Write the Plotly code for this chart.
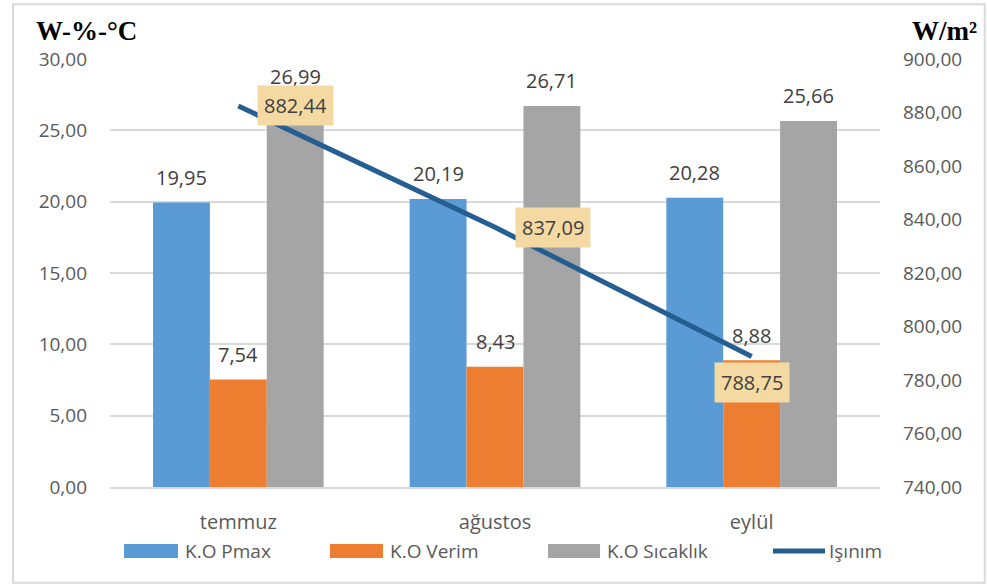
import plotly.graph_objects as go

# Monthly averages
months = ["temmuz", "ağustos", "eylül"]
pmax = [19.95, 20.19, 20.28]
verim = [7.54, 8.43, 8.88]
sicaklik = [26.99, 26.71, 25.66]
isinim = [882.44, 837.09, 788.75]

left_ticks = [0, 5, 10, 15, 20, 25, 30]
right_ticks = [740, 760, 780, 800, 820, 840, 860, 880, 900]

FONT = "Open Sans"
LABEL_C = "#404040"
TICK_C = "#595959"
LINE_C = "#255E91"

fig = go.Figure()

bar_series = [
    ("K.O Pmax", pmax, "#5B9BD5"),
    ("K.O Verim", verim, "#ED7D31"),
    ("K.O Sıcaklık", sicaklik, "#A5A5A5"),
]
for name, vals, col in bar_series:
    fig.add_trace(go.Bar(
        x=months, y=vals, name=name, marker_color=col,
        marker_line_width=0, yaxis="y", hoverinfo="skip", showlegend=False,
    ))

fig.add_trace(go.Scatter(
    x=months, y=isinim, name="Işınım", mode="lines",
    line=dict(color=LINE_C, width=5), yaxis="y2", hoverinfo="skip",
    showlegend=False,
))

annotations = []
shapes = []
# value labels above each bar (bar slot width = 1/3 of the group width)
group_w = 1 - 0.335
slot = group_w / 3
for k, (name, vals, col) in enumerate(bar_series):
    off = (k - 1) * slot
    for i, v in enumerate(vals):
        annotations.append(dict(
            x=i + off, y=v, xref="x", yref="y", text=f"{v:.2f}".replace(".", ","),
            showarrow=False, yshift=25, yanchor="middle",
            font=dict(family=FONT, size=20, color=LABEL_C),
        ))

# boxed labels for the irradiance line
line_shifts = [(57, 0), (58, 0), (0, -26)]
for i, v in enumerate(isinim):
    dx, dy = line_shifts[i]
    annotations.append(dict(
        x=months[i], y=v, xref="x", yref="y2", text=f"{v:.2f}".replace(".", ","),
        showarrow=False, xshift=dx, yshift=dy,
        font=dict(family=FONT, size=20, color=LABEL_C),
        bgcolor="#F4D9A3", borderpad=6,
    ))

# axis unit titles
annotations.append(dict(
    x=-0.031, y=1.065, xref="paper", yref="paper", text="<b>W-%-°C</b>",
    xanchor="center", yanchor="middle",
    showarrow=False, font=dict(family="Liberation Serif", size=27, color="black"),
))
annotations.append(dict(
    x=1.084, y=1.065, xref="paper", yref="paper", text="<b>W/m²</b>",
    xanchor="center", yanchor="middle",
    showarrow=False, font=dict(family="Liberation Serif", size=27, color="black"),
))

# legend row below the plot: wide swatches, then the series name
legend_y = -0.1495
legend_items = [
    ("K.O Pmax", "#5B9BD5", "rect", 0.0182, 0.0883, 0.0948),
    ("K.O Verim", "#ED7D31", "rect", 0.2857, 0.3545, 0.3610),
    ("K.O Sıcaklık", "#A5A5A5", "rect", 0.5688, 0.6364, 0.6429),
    ("Işınım", LINE_C, "line", 0.8610, 0.9286, 0.9312),
]
for name, col, kind, x0, x1, xt in legend_items:
    if kind == "rect":
        shapes.append(dict(
            type="rect", xref="paper", yref="paper", x0=x0, x1=x1,
            y0=legend_y - 0.0164, y1=legend_y + 0.0164,
            fillcolor=col, line=dict(width=0),
        ))
    else:
        shapes.append(dict(
            type="line", xref="paper", yref="paper", x0=x0, x1=x1,
            y0=legend_y, y1=legend_y, line=dict(color=col, width=5),
        ))
    annotations.append(dict(
        x=xt, y=legend_y, xref="paper", yref="paper", text=name,
        xanchor="left", yanchor="middle", showarrow=False,
        font=dict(family=FONT, size=19, color=TICK_C),
    ))

# chart frame
shapes.append(dict(
    type="rect", xref="paper", yref="paper",
    x0=-0.126, x1=1.136, y0=-0.224, y1=1.128,
    line=dict(color="#D9D9D9", width=2), layer="below",
))

fig.update_layout(
    width=987, height=588,
    margin=dict(l=110, r=107, t=59, b=101, autoexpand=False),
    paper_bgcolor="white", plot_bgcolor="white",
    separators=",.",
    barmode="group", bargap=0.335, bargroupgap=0,
    font=dict(family=FONT, color=TICK_C),
    showlegend=False,
    xaxis=dict(
        type="category", showgrid=False, showline=True, linecolor="#D9D9D9",
        linewidth=2, ticks="", ticklabelstandoff=16,
        tickfont=dict(family=FONT, size=20, color=TICK_C),
    ),
    yaxis=dict(
        range=[0, 30], tickvals=left_ticks, tickformat=".2f",
        showgrid=True, gridcolor="#D9D9D9", gridwidth=2, zeroline=False,
        showline=False, ticks="", ticklabelstandoff=22,
        tickfont=dict(family=FONT, size=19, color=TICK_C),
    ),
    yaxis2=dict(
        range=[740, 900], tickvals=right_ticks, tickformat=".2f",
        overlaying="y", side="right", showgrid=False, zeroline=False,
        showline=False, ticks="", ticklabelstandoff=22,
        tickfont=dict(family=FONT, size=19, color=TICK_C),
    ),
    annotations=annotations,
    shapes=shapes,
)

fig.write_html("out.html")
